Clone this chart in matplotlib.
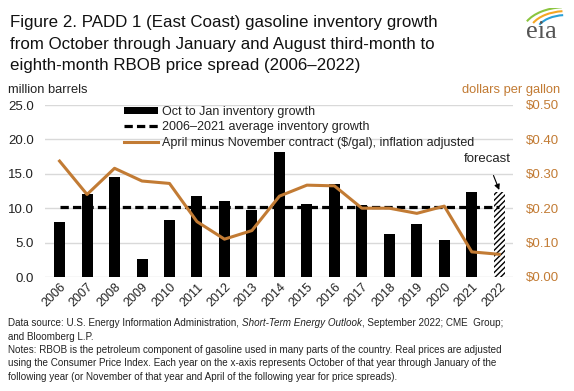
import matplotlib
matplotlib.use("Agg")
import matplotlib.pyplot as plt
import numpy as np
from matplotlib.patches import Arc

years = [str(y) for y in range(2006, 2023)]
inventory = [8.0, 12.0, 14.5, 2.6, 8.3, 11.8, 11.0, 9.7, 18.2, 10.6, 13.5, 10.5, 6.25, 7.7, 5.4, 12.35, 12.4]
avg_growth = 10.2
spread = [0.337, 0.24, 0.316, 0.279, 0.272, 0.161, 0.11, 0.135, 0.235, 0.267, 0.265, 0.20, 0.20, 0.185, 0.206, 0.073, 0.066]
left_ticks = [0, 5, 10, 15, 20, 25]
right_ticks = [0.0, 0.1, 0.2, 0.3, 0.4, 0.5]

plt.rcParams['font.family'] = ['Liberation Sans', 'DejaVu Sans']
orange = '#c27b34'
txt = '#222222'

fig = plt.figure(figsize=(5.74, 3.91), dpi=100)
ax = fig.add_axes([45/574, 1-277/391, (513-45)/574, (277-105)/391])
ax2 = ax.twinx()

x = np.arange(len(years))
bars = ax.bar(x[:-1], inventory[:-1], width=0.4, color='black', zorder=3)
plt.rcParams['hatch.linewidth'] = 1.0
ax.bar(x[-1:], inventory[-1:], width=0.4, color='white', edgecolor='black', hatch='//////', linewidth=0, zorder=3)
avg_line, = ax.plot([x[0], x[-1]], [avg_growth, avg_growth], color='black', lw=2.3, ls=(0, (2.6, 1.3)), zorder=4)
spread_line, = ax2.plot(x, spread, color=orange, lw=2.2, zorder=5)

ax.set_xlim(-0.53, 16.5)
ax.set_ylim(0, 25)
ax2.set_ylim(0, 0.5)
ax.set_yticks(left_ticks)
ax.set_yticklabels([f"{v:.1f}" for v in left_ticks])
ax2.set_yticks(right_ticks)
ax2.set_yticklabels([f"${v:.2f}" for v in right_ticks])
ax.set_xticks(x)
ax.set_xticklabels(years, rotation=45, ha='right', rotation_mode='anchor')
ax.grid(axis='y', color='#d9d9d9', lw=1, zorder=0)
ax.set_axisbelow(True)
for a in (ax, ax2):
    for s in a.spines.values():
        s.set_visible(False)
ax.tick_params(axis='y', length=0, labelsize=9.5, colors=txt, pad=8)
ax.tick_params(axis='x', length=0, labelsize=9, pad=3, colors=txt)
ax2.tick_params(axis='y', length=0, labelsize=9.5, colors=orange, pad=9)
ax2.set_zorder(ax.zorder + 1)
ax2.patch.set_visible(False)

handles = [bars, avg_line, spread_line]
labels = ['Oct to Jan inventory growth', '2006\u20132021 average inventory growth',
          'April minus November contract ($/gal), inflation adjusted']
leg = ax2.legend(handles, labels, loc='upper left', bbox_to_anchor=((124-45)/468, 0.995), frameon=False,
                 fontsize=9, handlelength=2.7, handleheight=0.55, labelspacing=0.28,
                 borderaxespad=0, borderpad=0, handletextpad=0.35, labelcolor=txt)

ax2.annotate('forecast', xy=(16.0, 0.253), xytext=(15.55, 0.343), fontsize=9.5, color=txt,
             ha='center', va='center', arrowprops=dict(arrowstyle='-|>', color='black', lw=0.8,
                                                        mutation_scale=8, shrinkA=6, shrinkB=0))

fig.text(8/574, 1-90/391, 'million barrels', fontsize=9.3, color=txt, va='center')
fig.text(560/574, 1-90/391, 'dollars per gallon', fontsize=9.3, color=orange, va='center', ha='right')

title_lines = ['Figure 2. PADD 1 (East Coast) gasoline inventory growth',
               'from October through January and August third-month to',
               'eighth-month RBOB price spread (2006\u20132022)']
for i, line in enumerate(title_lines):
    fig.text(10/574, 1-(27 + 21.5*i)/391, line, fontsize=12.2, va='baseline', color='#111111')

# eia logo
fig.text(541/574, 1-32/391, 'eia', fontsize=19, family='Liberation Serif', color='#555555', ha='center', va='center')
lax = fig.add_axes([518/574, 1-30/391, 46/574, 22/391])
lax.set_xlim(0, 1); lax.set_ylim(0, 1); lax.axis('off')
for r, c in zip([0.95, 0.8, 0.65], ['#8bc53f', '#f5a623', '#2a9fd6']):
    lax.add_patch(Arc((1.05, -0.1), 2*r, 2*r*1.2, theta1=95, theta2=150, color=c, lw=1.5))

fs = 7.1
r = fig.canvas.get_renderer()
t_a = fig.text(8/574, 1-323/391, 'Data source: U.S. Energy Information Administration, ', fontsize=fs, va='center', color=txt)
bb = t_a.get_window_extent(renderer=r)
t_b = fig.text(bb.x1/574, 1-323/391, 'Short-Term Energy Outlook', fontsize=fs, va='center', style='italic', color=txt)
bb2 = t_b.get_window_extent(renderer=r)
fig.text(bb2.x1/574, 1-323/391, ', September 2022; CME  Group;', fontsize=fs, va='center', color=txt)
fig.text(8/574, 1-336.5/391, 'and Bloomberg L.P.', fontsize=fs, va='center', color=txt)
notes = ['Notes: RBOB is the petroleum component of gasoline used in many parts of the country. Real prices are adjusted',
         'using the Consumer Price Index. Each year on the x-axis represents October of that year through January of the',
         'following year (or November of that year and April of the following year for price spreads).']
for i, line in enumerate(notes):
    fig.text(8/574, 1-(350 + 13.5*i)/391, line, fontsize=fs, va='center', color=txt)

fig.savefig('out.png', dpi=100)
